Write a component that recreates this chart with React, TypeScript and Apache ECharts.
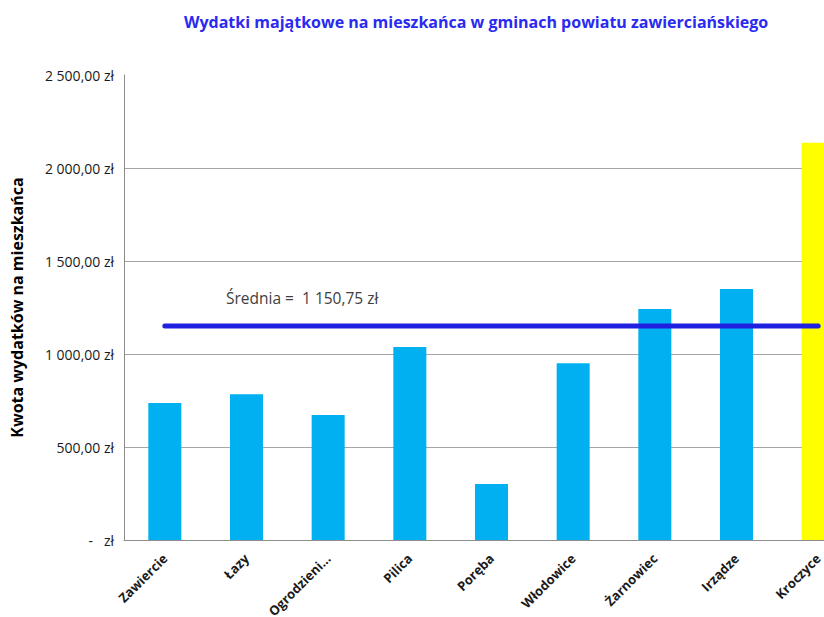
import React, { useEffect, useRef } from "react";
import * as echarts from "echarts";

const categories = ["Zawiercie", "Łazy", "Ogrodzieniec", "Pilica", "Poręba", "Włodowice", "Żarnowiec", "Irządze", "Kroczyce"];
const values = [737, 783, 672, 1038, 301, 950, 1242, 1349, 2136];
const barColors = ["#00B0F0", "#00B0F0", "#00B0F0", "#00B0F0", "#00B0F0", "#00B0F0", "#00B0F0", "#00B0F0", "#FFFF00"];
const average = 1150.75;
const averageLine = categories.map(() => average);
const yTicks = [0, 500, 1000, 1500, 2000, 2500];

const fmtZl = (v: number) => {
  if (v === 0) return "-   zł";
  const [int, dec] = v.toFixed(2).split(".");
  const withSpaces = int.replace(/\B(?=(\d{3})+(?!\d))/g, " ");
  return `${withSpaces},${dec} zł`;
};

const FONT = "'Open Sans', sans-serif";

export default function App() {
  const ref = useRef<HTMLDivElement>(null);
  useEffect(() => {
    if (!ref.current) return;
    const chart = echarts.init(ref.current, undefined, { renderer: "svg" });
    chart.setOption({
      animation: false,
      backgroundColor: "#ffffff",
      title: {
        text: "Wydatki majątkowe na mieszkańca w gminach powiatu zawierciańskiego",
        left: 179,
        top: 9,
        textStyle: { color: "#2A2AF0", fontSize: 16, fontWeight: "bold", fontFamily: FONT },
      },
      grid: { left: 124, top: 75, right: 41, bottom: 77, containLabel: false, outerBoundsMode: "none" },
      xAxis: {
        type: "category",
        data: categories,
        axisLine: { lineStyle: { color: "#8C8C8C", width: 1 } },
        axisTick: { show: false },
        axisLabel: {
          rotate: 45,
          margin: 16,
          interval: 0,
          color: "#1A1A1A",
          fontSize: 13,
          fontWeight: "bold",
          fontFamily: FONT,
          formatter: (v: string) => (v.length > 10 ? v.slice(0, 10) + "…" : v),
        },
      },
      yAxis: {
        type: "value",
        min: yTicks[0],
        max: yTicks[yTicks.length - 1],
        interval: yTicks[1] - yTicks[0],
        name: "Kwota wydatków na mieszkańca",
        nameLocation: "middle",
        nameGap: 99,
        nameTextStyle: { color: "#000000", fontSize: 16, fontWeight: "bold", fontFamily: FONT },
        axisLine: { show: true, lineStyle: { color: "#8C8C8C", width: 1 } },
        axisTick: { show: false },
        axisLabel: { color: "#1A1A1A", fontSize: 14, fontFamily: FONT, margin: 10, formatter: fmtZl },
        splitLine: { show: true, showMaxLine: false, lineStyle: { color: "#A6A6A6", width: 1 } },
      },
      series: [
        {
          type: "bar",
          data: values.map((v, i) => ({ value: v, itemStyle: { color: barColors[i] } })),
          barWidth: 33,
        },
        {
          type: "line",
          data: averageLine,
          symbol: "none",
          lineStyle: { color: "#2020E0", width: 5, cap: "round" },
          z: 5,
        },
      ],
      graphic: [
        {
          type: "text",
          left: 226,
          top: 290,
          style: {
            text: "Średnia =  1 150,75 zł",
            fill: "#404040",
            font: `15.5px ${FONT}`,
          },
        },
      ],
    });
    return () => chart.dispose();
  }, []);
  return (
    <div
      ref={ref}
      style={{ position: "fixed", left: 0, top: 0, width: 900, height: 617 }}
    />
  );
}
